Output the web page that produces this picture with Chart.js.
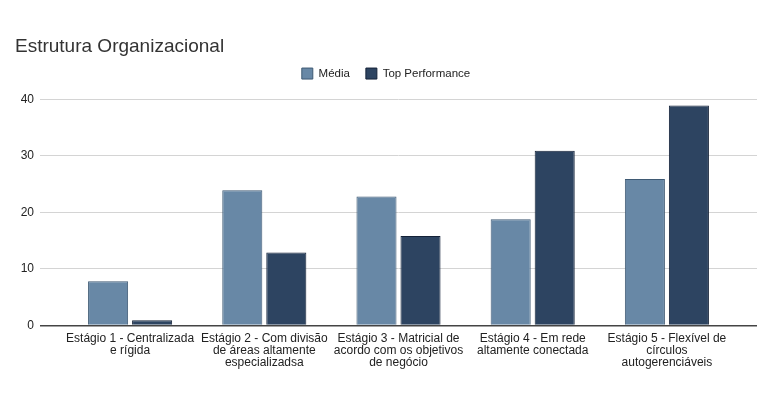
<!DOCTYPE html>
<html>
<head>
<meta charset="utf-8">
<script src="https://cdn.jsdelivr.net/npm/chart.js@4/dist/chart.umd.min.js"></script>
<style>
  html, body { margin: 0; padding: 0; background: #fff; }
  #wrap { width: 768px; height: 394px; position: relative; }
</style>
</head>
<body>
<div id="wrap"><canvas id="chart"></canvas></div>
<script>
const categories = [
  ['Estágio 1 - Centralizada', 'e rígida'],
  ['Estágio 2 - Com divisão', 'de áreas altamente', 'especializadsa'],
  ['Estágio 3 - Matricial de', 'acordo com os objetivos', 'de negócio'],
  ['Estágio 4 - Em rede', 'altamente conectada'],
  ['Estágio 5 - Flexível de', 'círculos', 'autogerenciáveis']
]
const mediaValues = [7.8, 23.9, 22.8, 18.8, 25.9]
const topValues = [0.9, 12.9, 15.8, 30.9, 38.9]
const yTicks = [0, 10, 20, 30, 40]

const gridColor = (c) => c.tick && c.tick.value === 0 ? '#444' : '#d4d4d4'
const gridWidth = (c) => c.tick && c.tick.value === 0 ? 1.5 : 1
const setTicks = (axis) => {
  axis.ticks = yTicks.map(v => ({ value: v }))
}

const ctx = document.getElementById('chart').getContext('2d')

new Chart(ctx, {
  type: 'bar',
  data: {
    labels: categories,
    datasets: [
      {
        label: 'Média',
        data: mediaValues,
        backgroundColor: '#6888a6',
        borderColor: '#3f5a74',
        borderWidth: 1,
        barPercentage: 0.91,
        categoryPercentage: 0.656
      },
      {
        label: 'Top Performance',
        data: topValues,
        backgroundColor: '#2d4461',
        borderColor: '#142238',
        borderWidth: 1,
        barPercentage: 0.91,
        categoryPercentage: 0.656
      }
    ]
  },
  options: {
    responsive: true,
    maintainAspectRatio: false,
    animation: false,
    layout: {
      padding: { left: 15, right: 11, top: 0, bottom: 18 }
    },
    scales: {
      y: {
        min: 0,
        max: 40,
        afterBuildTicks: setTicks,
        afterFit: (axis) => { axis.width = 48 },
        grid: {
          color: gridColor,
          lineWidth: gridWidth,
          drawTicks: true,
          tickLength: 23
        },
        border: { display: false },
        ticks: {
          padding: 6,
          color: '#222',
          font: { family: 'Liberation Sans, Arial', size: 12 }
        }
      },
      yRight: {
        position: 'right',
        min: 0,
        max: 40,
        afterBuildTicks: setTicks,
        grid: {
          color: gridColor,
          lineWidth: gridWidth,
          drawOnChartArea: false,
          drawTicks: true,
          tickLength: 23
        },
        border: { display: false },
        ticks: { display: false }
      },
      x: {
        grid: { display: false, drawTicks: false },
        border: { display: false },
        ticks: {
          color: '#222',
          padding: 7,
          maxRotation: 0,
          autoSkip: false,
          font: { family: 'Liberation Sans, Arial', size: 12, lineHeight: '12.2px' }
        }
      }
    },
    plugins: {
      title: {
        display: true,
        text: 'Estrutura Organizacional',
        align: 'start',
        color: '#333',
        font: { family: 'Liberation Sans, Arial', size: 19, weight: 'normal' },
        padding: { top: 35, bottom: -6 }
      },
      // empty subtitle used as a spacer between legend and plot
      subtitle: {
        display: true,
        text: ' ',
        weight: 500,
        font: { size: 5, lineHeight: 1 },
        padding: { top: 0, bottom: 5 }
      },
      legend: {
        display: true,
        labels: {
          boxWidth: 11,
          boxHeight: 11,
          padding: 16,
          color: '#222',
          font: { family: 'Liberation Sans, Arial', size: 11.5 }
        }
      },
      tooltip: { enabled: false }
    }
  }
})
</script>
</body>
</html>
